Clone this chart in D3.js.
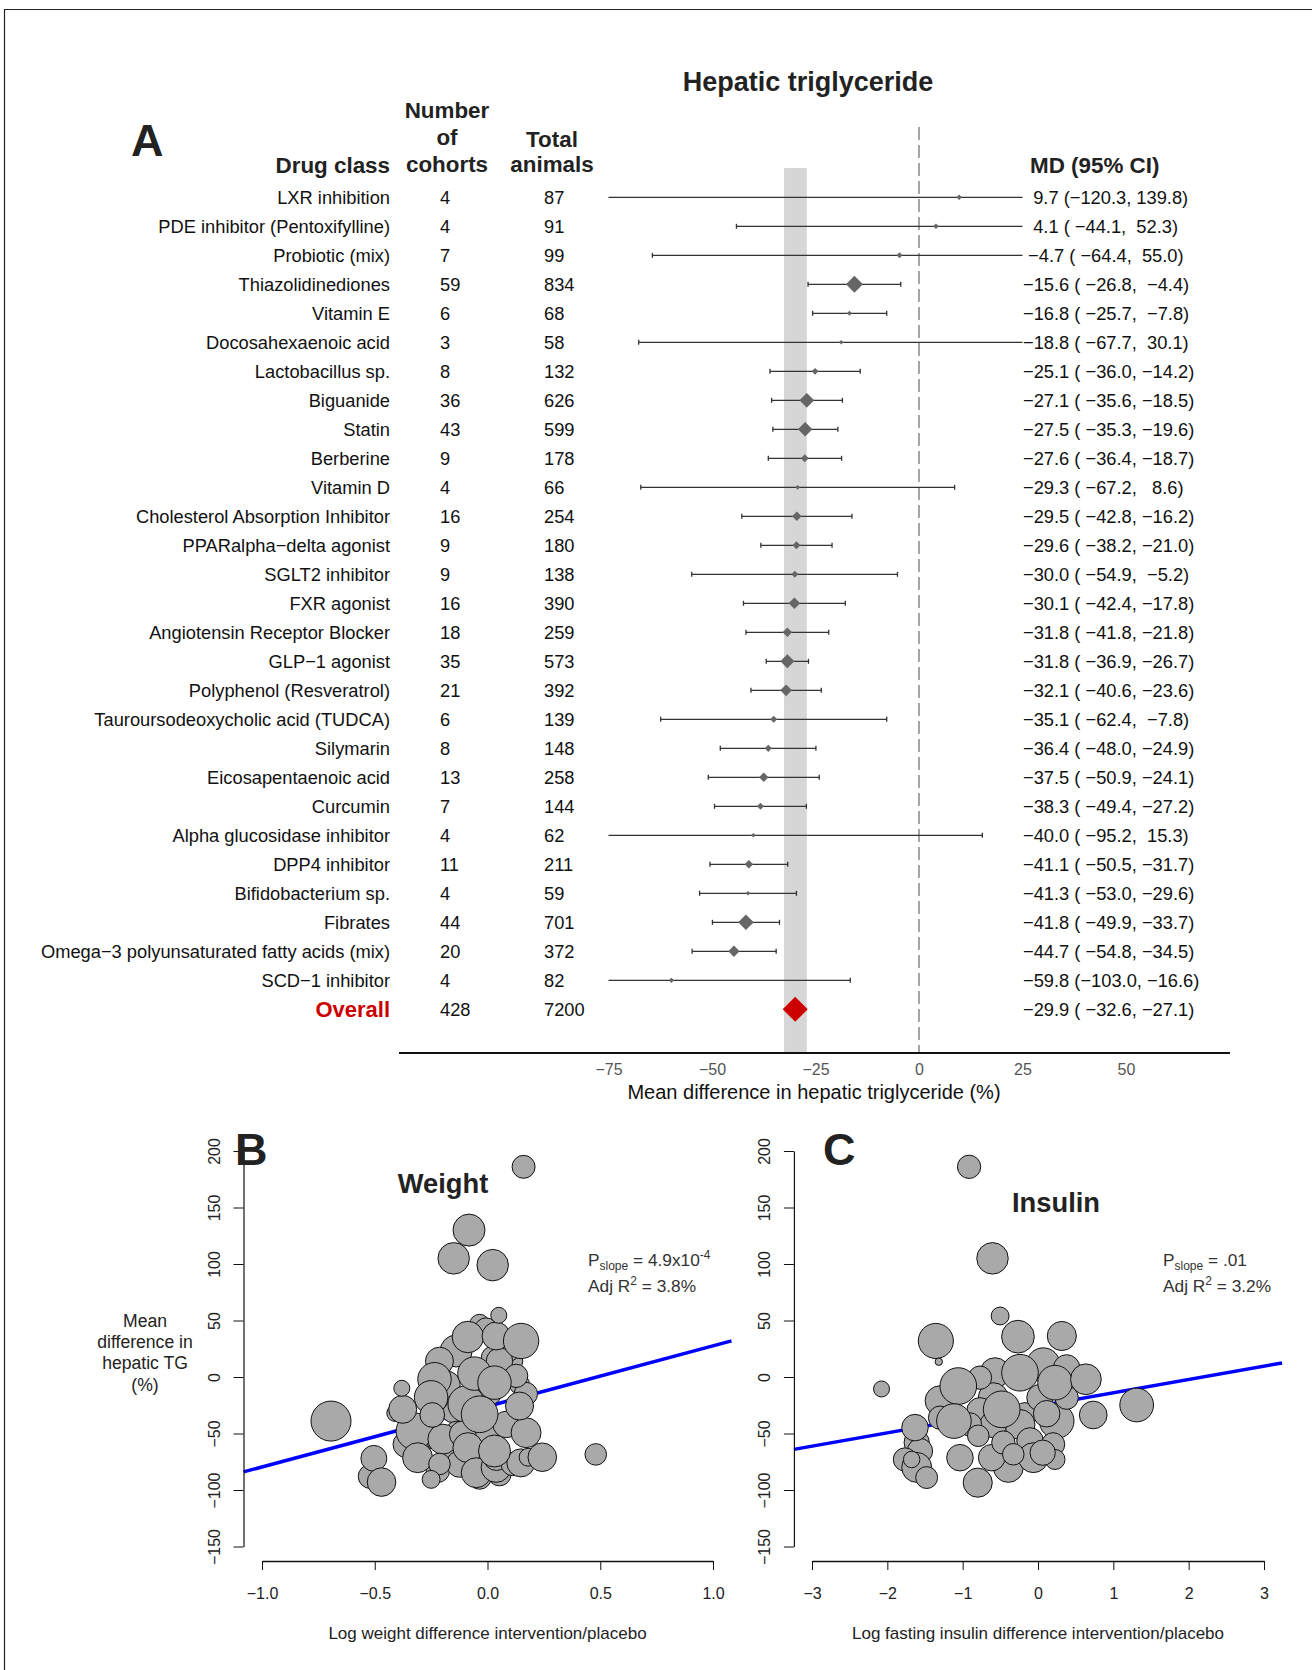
<!DOCTYPE html>
<html>
<head>
<meta charset="utf-8">
<script src="https://cdn.jsdelivr.net/npm/d3@7"></script>
<style>
  body { margin: 0; background: #fff; }
  svg { font-family: "Liberation Sans", Arial, Helvetica, sans-serif; }
  .pre { white-space: pre; }
</style>
</head>
<body>
<svg id="fig" width="1312" height="1670"></svg>
<script>
// ---- Panel A data (forest plot) ----
const drugClass = ["LXR inhibition", "PDE inhibitor (Pentoxifylline)", "Probiotic (mix)", "Thiazolidinediones",
  "Vitamin E", "Docosahexaenoic acid", "Lactobacillus sp.", "Biguanide", "Statin", "Berberine", "Vitamin D",
  "Cholesterol Absorption Inhibitor", "PPARalpha\u2212delta agonist", "SGLT2 inhibitor", "FXR agonist",
  "Angiotensin Receptor Blocker", "GLP\u22121 agonist", "Polyphenol (Resveratrol)",
  "Tauroursodeoxycholic acid (TUDCA)", "Silymarin", "Eicosapentaenoic acid", "Curcumin",
  "Alpha glucosidase inhibitor", "DPP4 inhibitor", "Bifidobacterium sp.", "Fibrates",
  "Omega\u22123 polyunsaturated fatty acids (mix)", "SCD\u22121 inhibitor"];
const cohorts = [4, 4, 7, 59, 6, 3, 8, 36, 43, 9, 4, 16, 9, 9, 16, 18, 35, 21, 6, 8, 13, 7, 4, 11, 4, 44, 20, 4];
const animals = [87, 91, 99, 834, 68, 58, 132, 626, 599, 178, 66, 254, 180, 138, 390, 259, 573, 392, 139, 148, 258, 144, 62, 211, 59, 701, 372, 82];
const md = [9.7, 4.1, -4.7, -15.6, -16.8, -18.8, -25.1, -27.1, -27.5, -27.6, -29.3, -29.5, -29.6, -30.0, -30.1,
  -31.8, -31.8, -32.1, -35.1, -36.4, -37.5, -38.3, -40.0, -41.1, -41.3, -41.8, -44.7, -59.8];
const ciLow = [-120.3, -44.1, -64.4, -26.8, -25.7, -67.7, -36.0, -35.6, -35.3, -36.4, -67.2, -42.8, -38.2, -54.9,
  -42.4, -41.8, -36.9, -40.6, -62.4, -48.0, -50.9, -49.4, -95.2, -50.5, -53.0, -49.9, -54.8, -103.0];
const ciHigh = [139.8, 52.3, 55.0, -4.4, -7.8, 30.1, -14.2, -18.5, -19.6, -18.7, 8.6, -16.2, -21.0, -5.2, -17.8,
  -21.8, -26.7, -23.6, -7.8, -24.9, -24.1, -27.2, 15.3, -31.7, -29.6, -33.7, -34.5, -16.6];
const overallLabel = "Overall";
const overallCohorts = 428;
const overallAnimals = 7200;
const overallMd = -29.9;
const overallLow = -32.6;
const overallHigh = -27.1;
const forestTicks = [-75, -50, -25, 0, 25, 50];

// ---- Panel B data: [log weight diff, MD hepatic TG, weight] ----
const weightPoints = [
  [0, -12.4, 56], [-0.18, -6.5, 44], [-0.154, -30, 34], [-0.139, -48, 25], [-0.27, -53.7, 34], [-0.36, -59.6, 44],
  [-0.006, -53.7, 44], [0.083, -42, 44], [0.142, -6.5, 25], [0.112, 14, 25], [0.024, 17, 34], [-0.035, 46.6, 25],
  [0.098, 23, 25], [-0.3, -65.5, 25], [-0.168, -71.4, 34], [-0.035, -89, 34], [0.053, -86, 34], [-0.094, -65.5, 34],
  [-0.22, -83, 34], [-0.124, -77, 44], [-0.52, -88, 36],
  [-0.139, 23, 64], [-0.213, 14, 49], [-0.006, 42, 34], [0.053, 14, 44], [0.17, -15, 34], [0.127, 1, 34],
  [-0.235, -2, 70], [-0.228, -20, 34], [-0.25, -18, 70], [-0.41, -32, 17], [-0.094, -24, 84],
  [-0.324, -48, 84], [-0.198, -55, 56], [-0.11, -50.7, 44], [0.171, -49.3, 56], [-0.087, -62.5, 56],
  [-0.31, -71.4, 56], [-0.05, -84.7, 56], [0.038, -80, 56], [0.04, -71, 44], [0.112, -77, 34],
  [0.148, -76, 49], [0.18, -71, 20],
  [-0.087, 35.4, 62], [0.038, 36.3, 49], [0.149, 31.9, 78], [-0.058, 3, 70], [0.031, -5, 70],
  [-0.376, -28.6, 49], [-0.245, -33.6, 38], [-0.035, -33, 84], [0.142, -25.7, 49], [0.031, -65.5, 64],
  [-0.213, -77, 29], [-0.25, -90.6, 20],
  [0.16, 186, 33], [-0.082, 130, 64], [-0.15, 105, 62], [0.023, 99, 62], [-0.694, -39, 100], [0.48, -68.5, 29],
  [-0.504, -72, 42], [-0.47, -93, 51], [0.05, 54.6, 16], [-0.38, -10, 16], [0.243, -71, 51]
];
const weightIntercept = -26;
const weightSlope = 53.6;

// ---- Panel C data: [log insulin diff, MD hepatic TG, weight] ----
const insulinPoints = [
  [0.07, 11, 70], [0.38, 8, 44], [-0.571, 3.8, 56], [0.248, -39, 75], [-1.3, -21, 56], [-1.61, -58, 40],
  [-1.567, -65.5, 40], [-1.766, -73, 34], [-1.61, -80, 56], [-1.478, -89, 30], [-1.677, -73, 17],
  [-1.036, -71.4, 44], [-0.394, -80, 56], [-0.615, -71.4, 44], [-0.594, -18.3, 56], [-0.77, -30, 44],
  [-0.173, -33, 34], [-0.239, -42, 56], [-1.3, -36, 34], [0.027, -18.3, 44], [0.38, -18.3, 34], [-0.77, -0.6, 34],
  [-0.594, -42, 44], [-0.903, -42, 34], [-0.106, -56.6, 44], [0.2, -59.6, 34], [0.226, -73, 25],
  [-1.058, -8, 84], [-0.239, 3.8, 84], [0.226, -5, 75], [-0.482, -28.6, 84], [-1.116, -39, 75],
  [0.115, -32.5, 44], [-1.633, -44.8, 44], [-0.062, -71.4, 56], [0.062, -67, 40], [-0.793, -52, 29],
  [-0.46, -58, 34], [-0.328, -68.4, 29],
  [-0.915, 186, 34], [-0.604, 105, 62], [-0.503, 54, 20], [-1.356, 31.9, 77], [-1.317, 13.5, 3.4],
  [-2.077, -10.6, 16], [-0.266, 35.7, 67], [0.316, 36.3, 53], [1.31, -24.8, 71], [0.733, -33.6, 48],
  [0.636, -2, 59], [-0.8, -93.5, 53]
];
const insulinIntercept = -25.8;
const insulinSlope = 11.8;

const scatterYTicks = [200, 150, 100, 50, 0, -50, -100, -150];
const weightXTicks = [-1, -0.5, 0, 0.5, 1];
const insulinXTicks = [-3, -2, -1, 0, 1, 2, 3];

const svg = d3.select("#fig");
svg.append("rect").attr("width", 1312).attr("height", 1670).attr("fill", "#fff");

// frame (cropped figure border)
svg.append("path").attr("d", "M4.5,1670 L4.5,9.5 L1312,9.5")
  .attr("fill", "none").attr("stroke", "#222").attr("stroke-width", 1.2);

// =================== Panel A ===================
const x = d3.scaleLinear().domain([0, 50]).range([919, 1126]);
const rowY = d3.scaleLinear().domain([0, 28]).range([197.3, 1009.3]);
const size = d3.scaleSqrt().domain([0, 834]).range([0, 8.5]);
const clipLo = -75, clipHi = 25;
const axisY = 1053;
const rowFont = 18.3;
const fmt = d3.format(".1f");
const pad = (v, w) => fmt(v).padStart(w, " ");
const mdText = (e, lo, hi) => pad(e, 5) + " (" + pad(lo, 6) + ", " + pad(hi, 5) + ")";
const diamond = (cx, cy, s) => `M${cx - s},${cy}L${cx},${cy - s}L${cx + s},${cy}L${cx},${cy + s}Z`;

const gA = svg.append("g");

gA.append("text").attr("x", 808).attr("y", 91).attr("text-anchor", "middle")
  .attr("font-size", 27).attr("font-weight", "bold").attr("fill", "#222").text("Hepatic triglyceride");
gA.append("text").attr("x", 131).attr("y", 156).attr("font-size", 45).attr("font-weight", "bold")
  .attr("fill", "#222").text("A");

// headers
const hdr = gA.append("g").attr("font-size", 22.4).attr("font-weight", "bold").attr("fill", "#222");
hdr.append("text").attr("x", 390).attr("y", 173).attr("text-anchor", "end").text("Drug class");
[["Number", 118], ["of", 145], ["cohorts", 172]].forEach(([t, yy]) =>
  hdr.append("text").attr("x", 447).attr("y", yy).attr("text-anchor", "middle").text(t));
hdr.append("text").attr("x", 552).attr("y", 146.5).attr("text-anchor", "middle").text("Total");
hdr.append("text").attr("x", 552).attr("y", 172).attr("text-anchor", "middle").text("animals");
hdr.append("text").attr("x", 1030).attr("y", 173).text("MD (95% CI)");

// shaded band for the overall CI
gA.append("rect").attr("x", x(overallLow)).attr("width", x(overallHigh) - x(overallLow))
  .attr("y", 168).attr("height", axisY - 168).attr("fill", "#d6d6d6");

// reference line at 0
gA.append("line").attr("x1", x(0)).attr("x2", x(0)).attr("y1", 127).attr("y2", axisY)
  .attr("stroke", "#a6a6a6").attr("stroke-width", 2).attr("stroke-dasharray", "13,5");

// rows
const rows = gA.selectAll(".row").data(d3.range(drugClass.length)).enter()
  .append("g").attr("class", "row");

rows.append("text").attr("x", 390).attr("y", (i) => rowY(i) + 6.6).attr("text-anchor", "end")
  .attr("font-size", rowFont).attr("fill", "#111").text((i) => drugClass[i]);
rows.append("text").attr("x", 440).attr("y", (i) => rowY(i) + 6.6)
  .attr("font-size", rowFont).attr("fill", "#111").text((i) => cohorts[i]);
rows.append("text").attr("x", 544).attr("y", (i) => rowY(i) + 6.6)
  .attr("font-size", rowFont).attr("fill", "#111").text((i) => animals[i]);
rows.append("text").attr("class", "pre").attr("x", 1023).attr("y", (i) => rowY(i) + 6.6)
  .attr("font-size", rowFont).attr("fill", "#111").text((i) => mdText(md[i], ciLow[i], ciHigh[i]));

// CI lines (clipped to plotting range)
rows.append("line")
  .attr("x1", (i) => x(Math.max(ciLow[i], clipLo))).attr("x2", (i) => x(Math.min(ciHigh[i], clipHi)))
  .attr("y1", (i) => rowY(i)).attr("y2", (i) => rowY(i))
  .attr("stroke", "#333").attr("stroke-width", 1.3);
rows.filter((i) => ciLow[i] >= clipLo).append("line")
  .attr("x1", (i) => x(ciLow[i])).attr("x2", (i) => x(ciLow[i]))
  .attr("y1", (i) => rowY(i) - 2.5).attr("y2", (i) => rowY(i) + 2.5)
  .attr("stroke", "#333").attr("stroke-width", 1.3);
rows.filter((i) => ciHigh[i] <= clipHi).append("line")
  .attr("x1", (i) => x(ciHigh[i])).attr("x2", (i) => x(ciHigh[i]))
  .attr("y1", (i) => rowY(i) - 2.5).attr("y2", (i) => rowY(i) + 2.5)
  .attr("stroke", "#333").attr("stroke-width", 1.3);
rows.append("path").attr("d", (i) => diamond(x(md[i]), rowY(i), Math.max(size(animals[i]), 2.2)))
  .attr("fill", "#666");

// overall row
const oy = rowY(28);
gA.append("text").attr("x", 390).attr("y", oy + 7.8).attr("text-anchor", "end").attr("font-size", 22)
  .attr("font-weight", "bold").attr("fill", "#cc0000").text(overallLabel);
gA.append("text").attr("x", 440).attr("y", oy + 6.6).attr("font-size", rowFont).attr("fill", "#111").text(overallCohorts);
gA.append("text").attr("x", 544).attr("y", oy + 6.6).attr("font-size", rowFont).attr("fill", "#111").text(overallAnimals);
gA.append("text").attr("class", "pre").attr("x", 1023).attr("y", oy + 6.6).attr("font-size", rowFont)
  .attr("fill", "#111").text(mdText(overallMd, overallLow, overallHigh));
gA.append("path").attr("d", diamond(x(overallMd), oy, 12.5)).attr("fill", "#cc0000");

// x axis
gA.append("line").attr("x1", 399).attr("x2", 1230).attr("y1", axisY).attr("y2", axisY)
  .attr("stroke", "#111").attr("stroke-width", 2.2);
const axA = gA.append("g").attr("transform", `translate(0,${axisY})`)
  .call(d3.axisBottom(x).tickValues(forestTicks).tickSize(0).tickPadding(11));
axA.select(".domain").remove();
axA.selectAll("text").attr("font-size", 16).attr("fill", "#555").attr("font-family", null);
gA.append("text").attr("x", 814).attr("y", 1099).attr("text-anchor", "middle").attr("font-size", 20)
  .attr("fill", "#111").text("Mean difference in hepatic triglyceride (%)");

// =================== Panels B and C ===================
const yS = d3.scaleLinear().domain([-150, 200]).range([1546.5, 1151]);
const rS = d3.scaleSqrt().domain([0, 100]).range([0, 20]);

function scatterPanel(opt) {
  const g = svg.append("g");
  const xs = d3.scaleLinear().domain(opt.xDomain).range(opt.xRange);
  const usr = opt.usr;

  // regression line under the bubbles
  g.append("line")
    .attr("x1", xs(usr[0])).attr("y1", yS(opt.intercept + opt.slope * usr[0]))
    .attr("x2", xs(usr[1])).attr("y2", yS(opt.intercept + opt.slope * usr[1]))
    .attr("stroke", "#0000ff").attr("stroke-width", 3.5);

  g.selectAll("circle").data(opt.points).enter().append("circle")
    .attr("cx", (d) => xs(d[0])).attr("cy", (d) => yS(d[1])).attr("r", (d) => rS(d[2]))
    .attr("fill", "#a9a9a9").attr("stroke", "#111").attr("stroke-width", 1);

  // y axis
  const ay = g.append("g").attr("transform", `translate(${xs(usr[0])},0)`)
    .call(d3.axisLeft(yS).tickValues(scatterYTicks).tickSize(10).tickSizeOuter(0));
  ay.select(".domain").attr("stroke", "#111").attr("stroke-width", 1.2);
  ay.selectAll("line").attr("stroke", "#111");
  ay.selectAll("text").attr("font-size", 16).attr("fill", "#222").attr("font-family", null)
    .attr("transform", "rotate(-90)").attr("x", 0).attr("y", -24).attr("dy", 0)
    .attr("text-anchor", "middle");

  // x axis
  const ax = g.append("g").attr("transform", "translate(0,1561)")
    .call(d3.axisBottom(xs).tickValues(opt.xTicks).tickFormat(opt.xFormat).tickSize(9)
      .tickSizeOuter(0).tickPadding(18));
  ax.select(".domain").attr("stroke", "#111").attr("stroke-width", 1.5);
  ax.selectAll("line").attr("stroke", "#111");
  ax.selectAll("text").attr("font-size", 16).attr("fill", "#222").attr("font-family", null);

  g.append("text").attr("x", (opt.xRange[0] + opt.xRange[1]) / 2).attr("y", 1639)
    .attr("text-anchor", "middle").attr("font-size", 17).attr("fill", "#222").text(opt.xLabel);

  g.append("text").attr("x", opt.letterX).attr("y", 1165).attr("font-size", 45)
    .attr("font-weight", "bold").attr("fill", "#222").text(opt.letter);
  g.append("text").attr("x", opt.titleX).attr("y", opt.titleY).attr("text-anchor", "middle")
    .attr("font-size", 27.3).attr("font-weight", "bold").attr("fill", "#222").text(opt.title);

  const p = g.append("text").attr("x", opt.annX).attr("y", 1266).attr("font-size", 17.3).attr("fill", "#333");
  p.append("tspan").text("P");
  p.append("tspan").attr("font-size", 12).attr("dy", 4).text("slope");
  p.append("tspan").attr("dy", -4).text(" = " + opt.pText);
  if (opt.pExp) p.append("tspan").attr("font-size", 12).attr("dy", -7).text(opt.pExp);
  const r2 = g.append("text").attr("x", opt.annX).attr("y", 1292).attr("font-size", 17.3).attr("fill", "#333");
  r2.append("tspan").text("Adj R");
  r2.append("tspan").attr("font-size", 12).attr("dy", -7).text("2");
  r2.append("tspan").attr("dy", 7).text(" = " + opt.r2Text);
}

scatterPanel({
  points: weightPoints, xDomain: [-1, 1], xRange: [262, 713], usr: [-1.082, 1.082],
  xTicks: weightXTicks, xFormat: d3.format(".1f"), intercept: weightIntercept, slope: weightSlope,
  xLabel: "Log weight difference intervention/placebo", letter: "B", letterX: 235,
  title: "Weight", titleX: 443, titleY: 1193, annX: 588, pText: "4.9x10", pExp: "-4", r2Text: "3.8%"
});
scatterPanel({
  points: insulinPoints, xDomain: [-3, 3], xRange: [812, 1264], usr: [-3.24, 3.24],
  xTicks: insulinXTicks, xFormat: d3.format("d"), intercept: insulinIntercept, slope: insulinSlope,
  xLabel: "Log fasting insulin difference intervention/placebo", letter: "C", letterX: 823,
  title: "Insulin", titleX: 1056, titleY: 1212, annX: 1163, pText: ".01", pExp: null, r2Text: "3.2%"
});

// y axis title shared on the left
const yt = svg.append("text").attr("x", 145).attr("font-size", 17.6).attr("fill", "#222").attr("text-anchor", "middle");
[["Mean", 1327], ["difference in", 1348], ["hepatic TG", 1369], ["(%)", 1391]].forEach(([t, yy]) =>
  yt.append("tspan").attr("x", 145).attr("y", yy).text(t));
</script>
</body>
</html>
